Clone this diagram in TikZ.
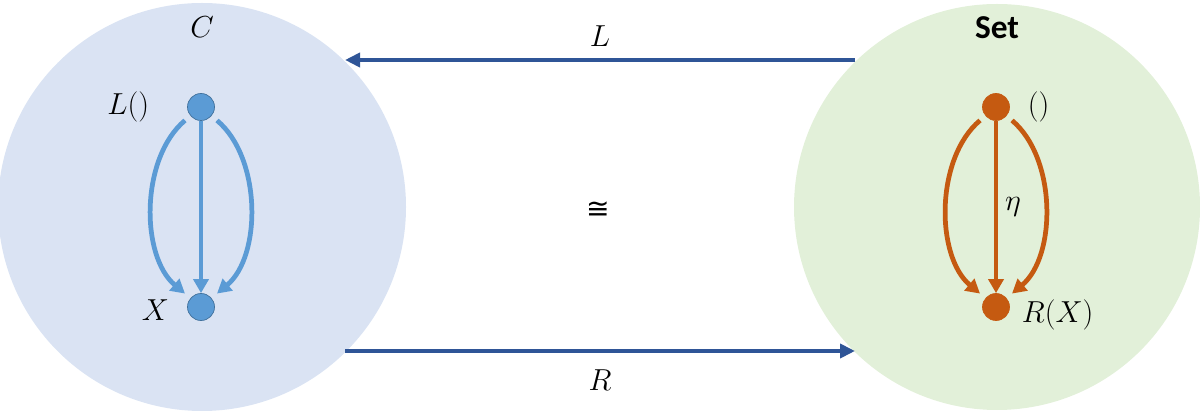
\documentclass[tikz,border=0pt]{standalone}
\usepackage{amssymb}
\usepackage{amsmath}
\usepackage{fontspec}
\setmainfont{Carlito}
\newfontfamily\symfont{DejaVu Sans}
\usepackage{tikz}
\usetikzlibrary{positioning, arrows.meta}
\definecolor{catblue}{HTML}{DAE3F3}
\definecolor{setgreen}{HTML}{E2F0D9}
\definecolor{dotblue}{HTML}{5B9BD5}
\definecolor{dotedge}{HTML}{41719C}
\definecolor{setorange}{HTML}{C55A11}
\definecolor{mapblue}{HTML}{2F5597}

\begin{document}
\begin{tikzpicture}[node distance={4cm}, thin,
    cat/.style = {circle, minimum size=8.16cm, inner sep=0pt},
    dot/.style = {draw, circle, minimum size=0.54cm, inner sep=0pt},
    txt/.style = {font=\fontsize{16.5}{19}\selectfont, inner sep=1pt},
    map/.style = {-{Triangle[width=0.28cm, length=0.3cm]}, line width=2.5pt, draw=mapblue},
    mor/.style = {-{Triangle[width=0.3cm, length=0.28cm]}, line width=2.7pt},
    side/.style = {shorten <=4pt, shorten >=4pt, looseness=0.92}]
    \useasboundingbox (0,0) rectangle (24,8.26);
    % the two categories
    \node[cat, fill=catblue] (c) at (4.04,4.12) {};
    \node[cat, fill=setgreen, minimum size=8.12cm] (s) at (19.94,4.12) {};
    \node[txt] (clab) at (4.04,7.72) {$C$};
    \node[txt, font=\fontsize{19}{22}\selectfont\bfseries] (slab) at (19.94,7.7) {Set};
    % objects
    \node[dot, fill=dotblue, draw=dotedge] (l0) at (4.02,6.12) {};
    \node[dot, fill=dotblue, draw=dotedge] (x0) [below of=l0] {};
    \node[dot, fill=setorange, draw=setorange] (r0) at (19.92,6.12) {};
    \node[dot, fill=setorange, draw=setorange] (rx0) [below of=r0] {};
    \node[txt] (l0lab) [left=0.72cm of l0] {$L()$};
    \node[txt] (x0lab) [left=0.32cm of x0, yshift=-0.06cm] {$X$};
    \node[txt] (r0lab) [right=0.32cm of r0] {$()$};
    \node[txt] (rx0lab) [right=0.2cm of rx0, yshift=-0.16cm] {$R(X)$};
    \node[txt, font=\fontsize{16}{19}\symfont] (iso) at (11.96,4.06) {≅};
    % morphisms
    \draw[mor, draw=dotblue, side] (l0) to[out=-140, in=140] (x0);
    \draw[mor, draw=dotblue] (l0) -- (x0);
    \draw[mor, draw=dotblue, side] (l0) to[out=-40, in=40] (x0);
    \draw[mor, draw=setorange, side] (r0) to[out=-140, in=140] (rx0);
    \draw[mor, draw=setorange] (r0) -- node[txt, right=0.1cm] {$\eta$} (rx0);
    \draw[mor, draw=setorange, side] (r0) to[out=-40, in=40] (rx0);
    % the adjunction
    \coordinate (lfrom) at (17.1,7.06);
    \coordinate (lto) at (6.9,7.06);
    \coordinate (rfrom) at (6.9,1.24);
    \coordinate (rto) at (17.1,1.24);
    \draw[map] (lfrom) -- node[txt, above=0.2cm] {$L$} (lto);
    \draw[map] (rfrom) -- node[txt, below=0.3cm] {$R$} (rto);
\end{tikzpicture}
\end{document}
